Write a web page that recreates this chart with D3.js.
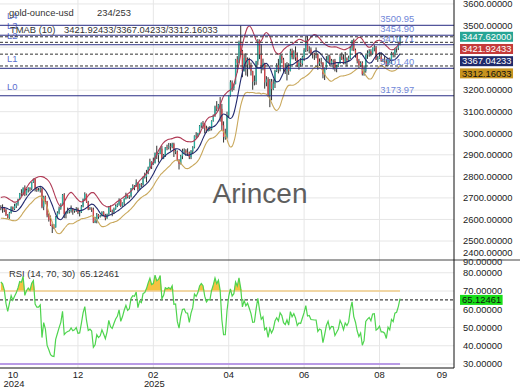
<!DOCTYPE html>
<html><head><meta charset="utf-8">
<script src="https://cdn.jsdelivr.net/npm/d3@7"></script>
<style>body{margin:0;background:#fff;}svg{display:block;font-family:"Liberation Sans",Arial,sans-serif;}</style>
</head><body><svg id="c" width="520" height="390"></svg>
<script>
const symbolName = "gold-ounce-usd";
const barCountLabel = "234/253";
const firstDate = "2024-09-06";
const holidays = ["2024-12-25","2025-01-01","2025-04-18"];
const visibleBars = 234;

const opens = [2516,2497,2506,2516,2512,2558,2578,2582,2569,2559,2587,2622,2628,2657,2657,2672,2658,2634,2663,
2657,2656,2653,2644,2622,2608,2631,2657,2649,2662,2674,2693,2721,2720,2748,2716,2736,2747,2743,2774,2788,
2743,2736,2736,2743,2659,2706,2685,2619,2598,2573,2565,2563,2612,2631,2651,2670,2715,2625,2633,2637,2640,
2650,2640,2643,2650,2632,2633,2660,2694,2718,2680,2648,2652,2646,2586,2593,2622,2612,2617,2634,2621,2606,
2624,2658,2640,2635,2649,2662,2670,2690,2663,2677,2697,2714,2703,2708,2744,2755,2754,2770,2740,2763,2760,2794,
2798,2815,2842,2867,2856,2861,2908,2898,2905,2928,2883,2898,2935,2933,2939,2936,2951,2915,2916,2876,
2858,2893,2918,2920,2911,2910,2889,2916,2934,2989,2984,3001,3035,3048,3044,3023,3011,3020,3019,3057,3084,
3124,3113,3133,3113,3037,2982,2982,3083,3175,3237,3210,3229,3343,3327,3424,3381,3288,3349,3319,3343,3317,
3288,3239,3241,3334,3431,3366,3306,3325,3236,3250,3177,3240,3205,3230,3290,3315,3295,3358,3342,3300,3288,3318,
3289,3381,3353,3375,3352,3310,3326,3323,3354,3386,3432,3385,3388,3370,3369,3368,3368,3323,3332,3328,3274,
3303,3339,3357,3326,3337,3336,3302,3313,3324,3355,3343,3324,3347,3339,3350,3397,3431,3387,3368,3336,3314,3326,3274,
3289,3363,3373,3380,3369,3397,3398,3342,3347,3356,3336,3336,3332,3315,3347,3339,3371,3365,3393,3396,3416];

const highs = [2529,2507,2518,2529,2560,2586,2589,2584,2600,2595,2625,2634,2664,2670,2685,2674,2663,2673,2669,
2666,2670,2658,2650,2625,2635,2661,2660,2673,2676,2696,2723,2740,2748,2758,2742,2749,2749,2774,2790,2790,
2751,2746,2750,2746,2710,2710,2686,2628,2618,2580,2578,2615,2638,2660,2675,2718,2722,2637,2655,2645,2665,
2652,2648,2657,2655,2644,2667,2697,2726,2720,2686,2658,2656,2655,2612,2630,2625,2621,2638,2638,2626,2627,
2662,2665,2646,2655,2670,2675,2698,2692,2679,2698,2724,2716,2712,2746,2763,2759,2786,2772,2766,2769,2799,2817,
2830,2845,2882,2870,2887,2911,2942,2909,2932,2942,2904,2936,2947,2955,2954,2956,2956,2925,2920,2880,
2900,2928,2930,2926,2930,2915,2922,2940,2990,3005,3002,3038,3050,3057,3047,3035,3030,3033,3060,3087,3128,
3149,3136,3168,3136,3055,3021,3100,3176,3246,3245,3230,3345,3358,3430,3500,3387,3370,3371,3352,3350,3328,
3290,3268,3336,3437,3435,3414,3346,3327,3265,3260,3252,3252,3250,3295,3325,3345,3366,3365,3350,3325,3330,3325,
3392,3393,3385,3403,3375,3335,3349,3360,3395,3446,3451,3404,3398,3377,3374,3398,3370,3347,3350,3330,3305,
3358,3365,3365,3345,3343,3345,3318,3330,3369,3375,3366,3377,3352,3360,3402,3433,3439,3393,3373,3345,3334,3334,3315,
3363,3385,3390,3390,3398,3409,3405,3358,3375,3375,3346,3358,3345,3350,3351,3378,3376,3393,3398,3423,3453];

const lows = [2485,2487,2494,2500,2508,2552,2572,2562,2547,2546,2584,2614,2624,2651,2650,2646,2625,2625,2641,
2643,2631,2634,2616,2604,2603,2627,2638,2643,2653,2664,2690,2709,2712,2708,2712,2725,2730,2737,2770,2730,
2728,2730,2725,2652,2643,2672,2610,2590,2570,2537,2555,2562,2605,2624,2645,2668,2606,2605,2627,2628,2632,
2622,2631,2635,2625,2614,2630,2656,2686,2677,2643,2644,2635,2583,2583,2582,2603,2609,2614,2616,2596,2603,
2622,2635,2615,2625,2645,2657,2664,2657,2659,2665,2693,2698,2695,2702,2741,2736,2751,2730,2738,2750,2757,2790,
2772,2810,2840,2834,2853,2860,2880,2864,2903,2880,2880,2890,2921,2925,2919,2930,2890,2903,2870,2832,
2855,2880,2905,2895,2895,2880,2880,2905,2930,2975,2983,2996,3025,3021,2999,3002,3008,3010,3013,3054,3076,
3102,3105,3054,3015,2957,2970,2975,3074,3170,3193,3200,3227,3282,3325,3366,3260,3287,3268,3263,3297,3268,
3202,3222,3225,3317,3344,3278,3292,3207,3218,3170,3121,3153,3200,3210,3284,3278,3287,3325,3285,3275,3245,3271,
3287,3343,3343,3336,3308,3295,3309,3315,3335,3377,3380,3370,3362,3347,3340,3348,3295,3312,3318,3255,3247,
3295,3328,3311,3322,3296,3287,3283,3308,3322,3340,3320,3319,3310,3332,3345,3383,3381,3351,3324,3302,3308,3268,3267,
3281,3345,3355,3357,3365,3380,3340,3331,3345,3331,3331,3323,3312,3311,3325,3321,3352,3352,3374,3386,3408];

const closes = [2497,2506,2516,2512,2558,2578,2582,2569,2559,2587,2622,2628,2657,2657,2672,2658,2634,2663,2657,
2656,2653,2644,2622,2608,2631,2657,2649,2662,2674,2693,2721,2720,2748,2716,2736,2747,2743,2774,2788,2743,
2736,2736,2743,2659,2706,2685,2619,2598,2573,2565,2563,2612,2631,2651,2670,2715,2625,2633,2637,2640,2650,
2640,2643,2650,2632,2633,2660,2694,2718,2680,2648,2652,2646,2586,2593,2622,2612,2617,2634,2621,2606,2624,
2658,2640,2635,2649,2662,2670,2690,2663,2677,2697,2714,2703,2708,2744,2755,2754,2770,2740,2763,2760,2794,2798,
2815,2842,2867,2856,2861,2908,2898,2905,2928,2883,2898,2935,2933,2939,2936,2951,2915,2916,2876,2858,
2893,2918,2920,2911,2910,2889,2916,2934,2989,2984,3001,3035,3048,3044,3023,3011,3020,3019,3057,3084,3124,
3113,3133,3113,3037,2982,2982,3083,3175,3237,3210,3229,3343,3327,3424,3381,3288,3349,3319,3343,3317,3288,
3239,3241,3334,3431,3366,3306,3325,3236,3250,3177,3240,3205,3230,3290,3315,3295,3358,3342,3300,3288,3318,3289,
3381,3353,3375,3352,3310,3326,3323,3354,3386,3432,3385,3388,3370,3369,3368,3368,3323,3332,3328,3274,3303,
3339,3357,3326,3337,3336,3302,3313,3324,3355,3343,3324,3347,3339,3350,3397,3431,3387,3368,3336,3314,3326,3274,3289,
3363,3373,3380,3369,3397,3398,3342,3347,3356,3336,3336,3332,3315,3347,3339,3371,3365,3393,3396,3416,3447.62];

const levelNames = ["L0","L1","L2","L3","L4"];
const levelValues = [3173.97, 3301.40, 3410.71, 3454.90, 3500.95];
const tmabPeriod = 10;
const tmabLast = [3421.92433, 3367.04233, 3312.16033];
const lastPrice = 3447.62;
const rsiParams = [14, 70, 30];
const rsiLast = 65.12461;
const priceTicks = [2400,2500,2600,2700,2800,2900,3000,3100,3200,3300,3400,3500,3600];
const rsiTicks = [30,40,50,60,70,80,90];
const xTickEvery = 44, xTickFirst = 45, futureBars = 31;

// ---------- layout ----------
const FS = 9.4, plotR = 454, mainBot = 260, rsiBot = 368;
const svg = d3.select("#c");
const N = closes.length, start = N - visibleBars;

// trading dates
const hol = new Set(holidays), fmtISO = d3.timeFormat("%Y-%m-%d");
const dates = [];
for (let d = new Date(firstDate + "T12:00:00"); dates.length < N; d.setDate(d.getDate() + 1)) {
  const w = d.getDay();
  if (w !== 0 && w !== 6 && !hol.has(fmtISO(d))) dates.push(new Date(d));
}

// indicators
function sma(a, n) { return a.map((v, i) => { if (i < n - 1) return null; const s = a.slice(i - n + 1, i + 1); return s.some(x => x == null) ? null : d3.mean(s); }); }
const p1 = Math.ceil(tmabPeriod / 2), p2 = Math.floor(tmabPeriod / 2) + 1;
const mid = sma(sma(closes, p1), p2);
const tr = closes.map((c, i) => i === 0 ? highs[i] - lows[i] : Math.max(highs[i] - lows[i], Math.abs(highs[i] - closes[i - 1]), Math.abs(lows[i] - closes[i - 1])));
const atr = sma(sma(tr, p1), p2);
const bandMult = 1.5;
const rsi = new Array(N).fill(null);
{ const n = rsiParams[0]; let ag = 0, al = 0;
  for (let i = 1; i < N; i++) {
    const ch = closes[i] - closes[i - 1], g = Math.max(ch, 0), l = Math.max(-ch, 0);
    if (i <= n) { ag += g / n; al += l / n; if (i === n) rsi[i] = 100 - 100 / (1 + ag / al); }
    else { ag = (ag * (n - 1) + g) / n; al = (al * (n - 1) + l) / n; rsi[i] = 100 - 100 / (1 + ag / al); }
  } }

const bars = closes.map((c, k) => ({ i: k - start, date: dates[k], o: opens[k], h: highs[k], l: lows[k], c,
  mid: mid[k], up: mid[k] == null ? null : mid[k] + bandMult * atr[k], lo: mid[k] == null ? null : mid[k] - bandMult * atr[k], rsi: rsi[k] }));
const vis = bars.filter(b => b.i >= 0);

// scales
const x = d3.scaleLinear().domain([-0.5, visibleBars - 0.5 + futureBars]).range([0, plotR]);
const yP = d3.scaleLinear().domain([2500, 3500]).range([241, 25.5]);
const yR = d3.scaleLinear().domain([30, 70]).range([364, 291]);

const defs = svg.append("defs");
defs.append("clipPath").attr("id", "cm").append("rect").attr("x", 0).attr("y", 0).attr("width", plotR).attr("height", mainBot);
defs.append("clipPath").attr("id", "cr").append("rect").attr("x", 0).attr("y", mainBot).attr("width", plotR).attr("height", rsiBot - mainBot);

// grid
const grid = svg.append("g").attr("stroke", "#e6e6e6").attr("stroke-width", 1);
priceTicks.forEach(v => { const y = yP(v); if (y > 0 && y < mainBot) grid.append("line").attr("x1", 0).attr("x2", plotR).attr("y1", y).attr("y2", y); });
rsiTicks.forEach(v => { const y = yR(v); if (y > mainBot && y < rsiBot) grid.append("line").attr("x1", 0).attr("x2", plotR).attr("y1", y).attr("y2", y); });
const tickIdx = d3.range(xTickFirst, visibleBars, xTickEvery);
tickIdx.forEach(i => grid.append("line").attr("x1", x(i)).attr("x2", x(i)).attr("y1", 0).attr("y2", rsiBot));

// watermark
svg.append("text").attr("x", 260).attr("y", 203).attr("text-anchor", "middle").attr("font-size", 28).attr("fill", "#5e5e5e").text("Arincen");

// ---------- main panel ----------
const gm = svg.append("g").attr("clip-path", "url(#cm)");
const upC = "#2aae9f", dnC = "#d6454a";
gm.selectAll("line.w").data(vis).join("line").attr("class", "w")
  .attr("x1", d => x(d.i)).attr("x2", d => x(d.i)).attr("y1", d => yP(d.h)).attr("y2", d => yP(d.l))
  .attr("stroke", "#1a1a1a").attr("stroke-width", 0.9);
gm.selectAll("rect.b").data(vis).join("rect").attr("class", "b")
  .attr("x", d => x(d.i) - 0.65).attr("width", 1.3)
  .attr("y", d => yP(Math.max(d.o, d.c))).attr("height", d => Math.max(0.8, Math.abs(yP(d.o) - yP(d.c))))
  .attr("fill", d => d.c >= d.o ? upC : dnC);

const bandColors = ["#b03a55", "#222a6e", "#c9a85c"];
["up", "mid", "lo"].forEach((k, j) => {
  gm.append("path").datum(vis.filter(d => d[k] != null))
    .attr("d", d3.line().x(d => x(d.i)).y(d => yP(d[k])).curve(d3.curveMonotoneX))
    .attr("fill", "none").attr("stroke", bandColors[j]).attr("stroke-width", 1.1);
});

// levels
const lv = svg.append("g");
levelValues.forEach((v, j) => {
  const y = yP(v);
  lv.append("line").attr("x1", 0).attr("x2", plotR).attr("y1", y).attr("y2", y).attr("stroke", "#2b2f86").attr("stroke-width", 1);
  lv.append("text").attr("x", 7).attr("y", y - 6).attr("font-size", FS).attr("fill", "#5b6fd0").text(levelNames[j]);
  lv.append("text").attr("x", x(visibleBars - 12.5)).attr("y", y - 3).attr("font-size", FS).attr("fill", "#6f86d8").text(v.toFixed(2));
});
[lastPrice].concat(tmabLast).forEach(v => {
  const y = yP(v);
  lv.append("line").attr("x1", 0).attr("x2", plotR).attr("y1", y).attr("y2", y).attr("stroke", "#333").attr("stroke-width", 1).attr("stroke-dasharray", "3,2");
});

// legend
const lg = svg.append("g").attr("font-size", FS).attr("fill", "#333");
lg.append("text").attr("x", 9).attr("y", 16).text(symbolName);
lg.append("text").attr("x", 97).attr("y", 16).text(barCountLabel);
lg.append("text").attr("x", 10).attr("y", 33).text(`TMAB (${tmabPeriod})`);
lg.append("text").attr("x", 64).attr("y", 33).text(tmabLast.map(v => v.toFixed(5)).join("/"));

// ---------- RSI panel ----------
const gr = svg.append("g").attr("clip-path", "url(#cr)");
const [rN, rHi, rLo] = rsiParams;
const xEnd = x(visibleBars - 1);
gr.append("path").datum(vis)
  .attr("d", d3.area().x(d => x(d.i)).y0(yR(rHi)).y1(d => yR(Math.max(d.rsi, rHi))))
  .attr("fill", "#f5c242");
gr.append("line").attr("x1", 0).attr("x2", xEnd).attr("y1", yR(rHi)).attr("y2", yR(rHi)).attr("stroke", "#f1cd8a").attr("stroke-width", 1.6);
gr.append("line").attr("x1", 0).attr("x2", xEnd).attr("y1", yR(rLo)).attr("y2", yR(rLo)).attr("stroke", "#b99be6").attr("stroke-width", 1.8);
gr.append("line").attr("x1", 0).attr("x2", plotR).attr("y1", yR(rsiLast)).attr("y2", yR(rsiLast)).attr("stroke", "#111").attr("stroke-dasharray", "3,2");
gr.append("path").datum(vis)
  .attr("d", d3.line().x(d => x(d.i)).y(d => yR(d.rsi)))
  .attr("fill", "none").attr("stroke", "#4ed44e").attr("stroke-width", 1.2);
lg.append("text").attr("x", 9).attr("y", 277).text(`RSI (${rN}, ${rHi}, ${rLo})`);
lg.append("text").attr("x", 80).attr("y", 277).text(rsiLast.toFixed(5));

// ---------- value boxes (positions first, so axis labels hidden under them are skipped) ----------
const boxes = [[lastPrice, "#27a595", "#fff"], [tmabLast[0], "#c43a3a", "#fff"], [tmabLast[1], "#1f2a6b", "#fff"], [tmabLast[2], "#c7931f", "#111"]];
let prev = -99;
const boxPos = boxes.map(([v, f, tc]) => { const cy = Math.max(yP(v), prev + 12.2); prev = cy; return { cy, v, f, tc }; });
const rsiBox = { cy: yR(rsiLast), v: rsiLast, f: "#18dd18", tc: "#111" };
const covered = c => boxPos.some(b => Math.abs(b.cy - c) < 8);

// ---------- axes ----------
const ax = svg.append("g").attr("font-size", FS).attr("fill", "#222");
priceTicks.forEach(v => { const c = Math.min(yP(v), 253); if (!covered(c)) ax.append("text").attr("x", 463).attr("y", c + 3.3).text(v.toFixed(5)); });
rsiTicks.forEach(v => { const c = Math.max(yR(v), 262); ax.append("text").attr("x", 463).attr("y", c + 3.3).text(v.toFixed(5)); });

svg.append("line").attr("x1", 0).attr("x2", 520).attr("y1", mainBot).attr("y2", mainBot).attr("stroke", "#444");
svg.append("line").attr("x1", plotR).attr("x2", plotR).attr("y1", 0).attr("y2", rsiBot).attr("stroke", "#111");
svg.append("line").attr("x1", 0).attr("x2", plotR).attr("y1", rsiBot).attr("y2", rsiBot).attr("stroke", "#111");

function box(b) {
  const t = svg.append("text").attr("x", 462).attr("y", b.cy + 3.3).attr("font-size", FS).attr("fill", b.tc).text(b.v.toFixed(5));
  const w = t.node().getComputedTextLength();
  svg.insert("rect", () => t.node()).attr("x", 460).attr("y", b.cy - 5).attr("width", w + 3.5).attr("height", 10).attr("fill", b.f);
}
boxPos.forEach(box);
box(rsiBox);

// x labels
const fm = d3.timeFormat("%m"), fy = d3.timeFormat("%Y");
const xl = svg.append("g").attr("font-size", FS).attr("fill", "#222").attr("text-anchor", "middle");
const labels = [{ x: 13, date: vis[0].date }].concat(tickIdx.map(i => ({ x: x(i), date: vis[i].date })))
  .concat([{ x: plotR - 12, date: d3.timeMonth.offset(vis[visibleBars - 1].date, 1) }]);
let lastYear = null;
labels.forEach(l => {
  xl.append("text").attr("x", l.x).attr("y", 378).text(fm(l.date));
  const yr = fy(l.date);
  if (yr !== lastYear && l !== labels[labels.length - 1]) xl.append("text").attr("x", l.x + 1).attr("y", 387).text(yr);
  lastYear = yr;
});
</script></body></html>
